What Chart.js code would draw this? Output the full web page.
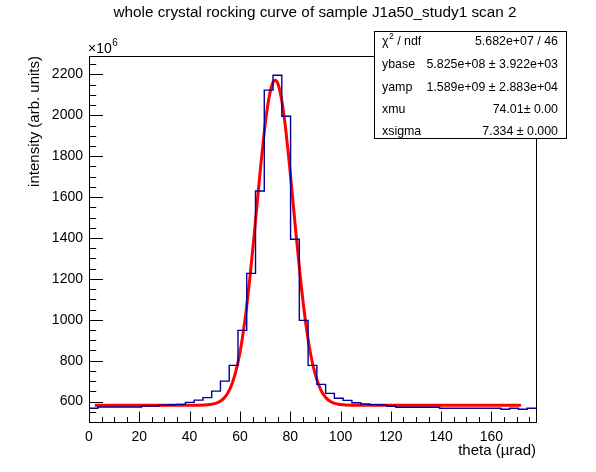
<!DOCTYPE html>
<html><head><meta charset="utf-8">
<script src="https://cdn.jsdelivr.net/npm/chart.js@4/dist/chart.umd.min.js"></script>
<style>html,body{margin:0;padding:0;background:#fff;overflow:hidden}#wrap{width:596px;height:472px;position:relative}</style>
</head><body><div id="wrap"><canvas id="c" width="596" height="472"></canvas></div>
<script>
const titleText = "whole crystal rocking curve of sample J1a50_study1 scan 2";
const xTitle = "theta (\u00b5rad)";
const yTitle = "intensity (arb. units)";
const yExponent = "6";

// histogram bin contents (units of 1e6), 51 bins starting at theta = 0
const binValues = [567, 573, 573, 573, 573, 573, 578, 578, 582, 584, 586, 596, 607, 619, 651, 700, 777, 948, 1227, 1630,
  2123, 2196, 1995, 1394, 997, 777, 684, 640, 616, 606, 594, 588, 585, 583, 577, 572, 572, 572, 572, 572,
  567, 567, 567, 567, 567, 567, 567, 562, 567, 562, 567];
const binStart = 0;
const binWidth = 3.484;

// fitted curve
const fitX = [2.3, 40, 46, 50, 52, 54, 56, 58, 60, 62, 64, 66, 68, 70, 71, 72, 73, 74, 75, 76, 77, 78, 80, 82, 84, 86, 88, 90, 92, 94, 96, 98, 102, 108, 171.7];
const fitY = [582.5, 582.5, 583.6, 590, 600, 621, 661, 730, 839, 999, 1210, 1459, 1720, 1952, 2044, 2113, 2157, 2171, 2157, 2113, 2044, 1952, 1720, 1459, 1210, 999, 839, 730, 661, 621, 600, 590, 583.6, 582.5, 582.5];

const xTicks = [0, 20, 40, 60, 80, 100, 120, 140, 160];
const yTicks = [600, 800, 1000, 1200, 1400, 1600, 1800, 2000, 2200];
const xMin = 0, xMax = 177.7, xMinorStep = 5;
const yMin = 500, yMax = 2290, yMinorStep = 50;

const statsLabels = ["chi2", "ybase", "yamp", "xmu", "xsigma"];
const statsValues = ["5.682e+07 / 46", "5.825e+08 \u00b1 3.922e+03", "1.589e+09 \u00b1 2.883e+04", "74.01\u00b1 0.00", "7.334 \u00b1 0.000"];

const FONT = '"Liberation Sans", Arial, Helvetica, sans-serif';

const histPoints = binValues.map((v, i) => ({x: binStart + i * binWidth, y: v}));
histPoints.push({x: binStart + binValues.length * binWidth, y: binValues[binValues.length - 1]});
const fitPoints = fitX.map((x, i) => ({x: x, y: fitY[i]}));

const rootPlugin = {
  id: 'rootStyle',
  afterDraw(chart) {
    const ctx = chart.ctx, a = chart.chartArea;
    const xs = chart.scales.x, ys = chart.scales.y;
    ctx.save();
    ctx.strokeStyle = '#000'; ctx.lineWidth = 1;
    const L = Math.round(a.left) + 0.5, R = Math.round(a.right) + 0.5, T = Math.round(a.top) + 0.5, B = Math.round(a.bottom) + 0.5;
    ctx.strokeRect(L, T, R - L, B - T);
    ctx.beginPath();
    for (let v = xMin; v <= xs.max + 1e-6; v += xMinorStep) {
      const px = Math.round(xs.getPixelForValue(v)) + 0.5;
      const major = v % 20 === 0;
      const len = major ? 11 : 5.5;
      ctx.moveTo(px, B); ctx.lineTo(px, B - len);
    }
    for (let v = Math.ceil(ys.min / yMinorStep) * yMinorStep; v <= ys.max + 1e-6; v += yMinorStep) {
      const py = Math.round(ys.getPixelForValue(v)) + 0.5;
      const major = v % 200 === 0;
      const len = major ? 13.5 : 6.7;
      ctx.moveTo(L, py); ctx.lineTo(L + len, py);
    }
    ctx.stroke();

    ctx.fillStyle = '#000';
    // title
    ctx.font = '15.3px ' + FONT;
    ctx.textAlign = 'center'; ctx.textBaseline = 'middle';
    ctx.fillText(titleText, 315, 13);
    // x title
    ctx.font = '15px ' + FONT;
    ctx.textAlign = 'right'; ctx.textBaseline = 'middle';
    ctx.fillText(xTitle, 536, 451);
    // y title
    ctx.save();
    ctx.translate(35, 56);
    ctx.rotate(-Math.PI / 2);
    ctx.textAlign = 'right'; ctx.textBaseline = 'middle';
    ctx.fillText(yTitle, 0, 0);
    ctx.restore();
    // exponent
    ctx.font = '14px ' + FONT;
    ctx.textAlign = 'left'; ctx.textBaseline = 'alphabetic';
    ctx.fillText('\u00d710', 88, 53);
    const w10 = ctx.measureText('\u00d710').width;
    ctx.font = '10px ' + FONT;
    ctx.fillText(yExponent, 88 + w10 + 0.5, 46);

    // stats box
    const bx = 374.5, by = 31.5, bw = 192, bh = 107;
    ctx.fillStyle = '#fff';
    ctx.fillRect(bx, by, bw, bh);
    ctx.strokeRect(bx, by, bw, bh);
    ctx.fillStyle = '#000';
    const rowY = [42, 65, 87.5, 110, 132];
    ctx.textBaseline = 'middle';
    statsLabels.forEach((lab, i) => {
      ctx.font = '12.4px ' + FONT;
      ctx.textAlign = 'left';
      if (lab === 'chi2') {
        ctx.fillText('\u03c7', 382, rowY[i]);
        const wc = ctx.measureText('\u03c7').width;
        ctx.font = '8.5px ' + FONT;
        ctx.fillText('2', 382 + wc + 0.5, rowY[i] - 5);
        const w2 = ctx.measureText('2').width;
        ctx.font = '12.4px ' + FONT;
        ctx.fillText(' / ndf', 382 + wc + 0.5 + w2, rowY[i]);
      } else {
        ctx.fillText(lab, 382, rowY[i]);
      }
      ctx.textAlign = 'right';
      ctx.fillText(statsValues[i], 558, rowY[i]);
    });
    ctx.restore();
  }
};

new Chart(document.getElementById('c'), {
  type: 'line',
  data: {
    datasets: [
      {data: histPoints, stepped: 'before', borderColor: '#000099', borderWidth: 1.4, pointRadius: 0, fill: false},
      {data: fitPoints, borderColor: '#ff0000', borderWidth: 3, pointRadius: 0, fill: false, cubicInterpolationMode: 'monotone'}
    ]
  },
  options: {
    responsive: false, animation: false, devicePixelRatio: 1,
    layout: {padding: {top: 56, right: 60, left: 0, bottom: 0}},
    plugins: {legend: {display: false}, tooltip: {enabled: false}, title: {display: false}},
    scales: {
      x: {
        type: 'linear', min: xMin, max: xMax,
        afterBuildTicks: s => { s.ticks = xTicks.map(v => ({value: v})); },
        afterFit: s => { s.height = 50; },
        grid: {display: false, drawTicks: false},
        border: {display: false},
        ticks: {padding: 7, color: '#000', font: {family: FONT, size: 14}, maxRotation: 0, autoSkip: false, callback: v => String(v)}
      },
      y: {
        type: 'linear', min: yMin, max: yMax,
        afterBuildTicks: s => { s.ticks = yTicks.map(v => ({value: v})); },
        afterFit: s => { s.width = 89; },
        grid: {display: false, drawTicks: false},
        border: {display: false},
        ticks: {padding: 6, color: '#000', font: {family: FONT, size: 14}, autoSkip: false, callback: v => String(v)}
      }
    }
  },
  plugins: [rootPlugin]
});
</script>
</body></html>
